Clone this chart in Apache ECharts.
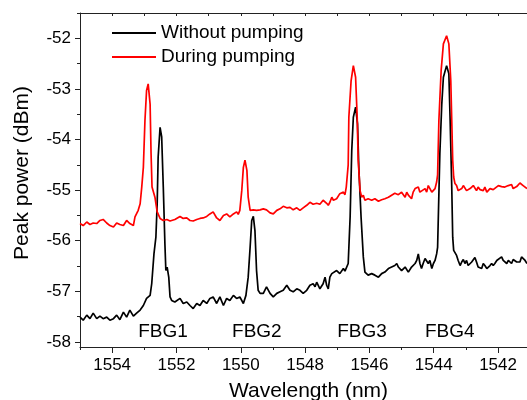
<!DOCTYPE html>
<html><head><meta charset="utf-8">
<script src="https://cdn.jsdelivr.net/npm/echarts@6/dist/echarts.min.js"></script>
<style>html,body{margin:0;padding:0;background:#fff}#c{width:527px;height:400px}</style>
</head><body><div id="c"></div>
<script>
const blackWl = [1555.00,1554.90,1554.79,1554.69,1554.59,1554.48,1554.38,1554.28,1554.17,1554.07,1553.96,1553.86,1553.76,1553.65,1553.55,1553.45,1553.34,1553.24,1553.13,1553.03,1552.93,1552.82,1552.77,1552.70,1552.64,1552.60,1552.57,1552.51,1552.46,1552.41,1552.36,1552.33,1552.29,1552.24,1552.20,1552.15,1552.05,1551.89,1551.79,1551.68,1551.58,1551.48,1551.37,1551.27,1551.17,1551.06,1550.96,1550.86,1550.75,1550.65,1550.54,1550.44,1550.34,1550.23,1550.13,1550.03,1549.92,1549.84,1549.77,1549.71,1549.66,1549.61,1549.56,1549.51,1549.46,1549.40,1549.30,1549.20,1549.09,1548.99,1548.88,1548.78,1548.68,1548.57,1548.47,1548.37,1548.26,1548.16,1548.06,1547.95,1547.85,1547.75,1547.69,1547.64,1547.54,1547.44,1547.38,1547.33,1547.28,1547.23,1547.17,1547.12,1547.02,1546.92,1546.81,1546.76,1546.71,1546.66,1546.60,1546.55,1546.50,1546.43,1546.37,1546.33,1546.26,1546.19,1546.14,1546.04,1545.93,1545.83,1545.72,1545.62,1545.52,1545.41,1545.31,1545.21,1545.15,1545.10,1545.00,1544.89,1544.79,1544.69,1544.58,1544.53,1544.48,1544.43,1544.38,1544.33,1544.27,1544.22,1544.17,1544.12,1544.06,1544.01,1543.96,1543.91,1543.88,1543.86,1543.81,1543.75,1543.70,1543.60,1543.53,1543.49,1543.44,1543.41,1543.38,1543.34,1543.29,1543.24,1543.18,1543.13,1543.08,1543.03,1542.98,1542.93,1542.87,1542.82,1542.77,1542.72,1542.67,1542.62,1542.56,1542.51,1542.46,1542.41,1542.35,1542.30,1542.25,1542.20,1542.15,1542.10,1542.04,1541.99,1541.89,1541.84,1541.79,1541.73,1541.68,1541.63,1541.58,1541.53,1541.47,1541.42,1541.37,1541.32,1541.27,1541.22,1541.16,1541.10];
const blackPw = [-57.51,-57.57,-57.47,-57.54,-57.43,-57.54,-57.49,-57.54,-57.51,-57.57,-57.54,-57.47,-57.56,-57.41,-57.51,-57.37,-57.49,-57.43,-57.37,-57.28,-57.14,-57.08,-56.85,-56.26,-55.93,-55.27,-54.35,-53.76,-53.95,-54.94,-56.06,-56.59,-56.52,-56.72,-57.11,-57.18,-57.21,-57.14,-57.24,-57.21,-57.28,-57.34,-57.24,-57.28,-57.18,-57.24,-57.14,-57.11,-57.24,-57.11,-57.28,-57.14,-57.18,-57.08,-57.14,-57.11,-57.24,-57.08,-56.72,-56.13,-55.60,-55.52,-55.80,-56.59,-56.98,-57.04,-57.04,-56.91,-57.04,-57.11,-57.04,-57.01,-56.98,-56.88,-56.98,-57.01,-56.95,-56.98,-57.04,-56.98,-56.88,-56.85,-56.91,-56.82,-56.95,-56.85,-56.72,-56.88,-56.95,-56.72,-56.65,-56.68,-56.59,-56.65,-56.55,-56.60,-56.62,-56.45,-55.53,-54.22,-53.56,-53.36,-53.69,-54.55,-55.53,-56.32,-56.62,-56.68,-56.65,-56.68,-56.72,-56.65,-56.62,-56.55,-56.52,-56.49,-56.45,-56.52,-56.59,-56.52,-56.62,-56.52,-56.45,-56.39,-56.26,-56.45,-56.55,-56.45,-56.35,-56.32,-56.45,-56.39,-56.55,-56.45,-56.39,-56.26,-56.13,-55.60,-54.28,-53.30,-52.77,-52.54,-52.70,-53.62,-54.94,-55.93,-56.19,-56.22,-56.29,-56.39,-56.49,-56.42,-56.37,-56.45,-56.39,-56.49,-56.52,-56.42,-56.39,-56.33,-56.42,-56.52,-56.49,-56.55,-56.45,-56.49,-56.55,-56.52,-56.49,-56.45,-56.49,-56.45,-56.39,-56.42,-56.32,-56.39,-56.42,-56.45,-56.39,-56.40,-56.45,-56.37,-56.39,-56.42,-56.45,-56.42,-56.32,-56.31,-56.39,-56.45];
const redWl = [1555.00,1554.90,1554.79,1554.69,1554.59,1554.48,1554.38,1554.28,1554.17,1554.07,1553.96,1553.86,1553.76,1553.65,1553.55,1553.45,1553.34,1553.29,1553.19,1553.13,1553.08,1553.03,1552.98,1552.93,1552.88,1552.82,1552.79,1552.76,1552.72,1552.67,1552.60,1552.51,1552.41,1552.30,1552.20,1552.05,1551.89,1551.79,1551.68,1551.58,1551.48,1551.37,1551.27,1551.17,1551.06,1550.96,1550.86,1550.75,1550.65,1550.54,1550.44,1550.34,1550.23,1550.13,1550.08,1550.03,1549.97,1549.92,1549.87,1549.81,1549.77,1549.71,1549.61,1549.51,1549.40,1549.30,1549.20,1549.09,1548.99,1548.88,1548.78,1548.68,1548.57,1548.47,1548.37,1548.26,1548.16,1548.06,1547.95,1547.85,1547.75,1547.64,1547.54,1547.44,1547.33,1547.28,1547.23,1547.17,1547.12,1547.02,1546.92,1546.81,1546.76,1546.72,1546.66,1546.64,1546.57,1546.50,1546.43,1546.38,1546.35,1546.29,1546.24,1546.19,1546.14,1546.04,1545.93,1545.83,1545.72,1545.62,1545.52,1545.41,1545.31,1545.21,1545.15,1545.10,1545.00,1544.89,1544.84,1544.79,1544.69,1544.64,1544.58,1544.48,1544.43,1544.38,1544.27,1544.22,1544.17,1544.12,1544.06,1544.01,1543.96,1543.91,1543.88,1543.84,1543.77,1543.70,1543.60,1543.53,1543.47,1543.44,1543.41,1543.38,1543.34,1543.29,1543.24,1543.18,1543.13,1543.08,1543.03,1542.98,1542.93,1542.87,1542.82,1542.77,1542.72,1542.67,1542.62,1542.56,1542.51,1542.46,1542.41,1542.35,1542.30,1542.25,1542.20,1542.15,1542.10,1541.99,1541.94,1541.89,1541.79,1541.68,1541.63,1541.58,1541.53,1541.47,1541.42,1541.32,1541.27,1541.22,1541.16,1541.10];
const redPw = [-55.66,-55.70,-55.63,-55.68,-55.65,-55.66,-55.60,-55.58,-55.65,-55.70,-55.73,-55.65,-55.68,-55.70,-55.60,-55.66,-55.70,-55.53,-55.40,-55.27,-54.94,-54.55,-53.62,-53.03,-52.90,-53.30,-54.28,-54.94,-54.95,-55.14,-55.43,-55.56,-55.60,-55.58,-55.61,-55.58,-55.52,-55.56,-55.55,-55.60,-55.61,-55.58,-55.56,-55.55,-55.52,-55.47,-55.43,-55.55,-55.60,-55.50,-55.47,-55.53,-55.47,-55.43,-55.48,-55.40,-55.01,-54.55,-54.41,-54.61,-55.14,-55.40,-55.39,-55.40,-55.39,-55.37,-55.39,-55.45,-55.47,-55.40,-55.37,-55.32,-55.35,-55.34,-55.39,-55.35,-55.40,-55.35,-55.30,-55.24,-55.28,-55.26,-55.28,-55.20,-55.26,-55.30,-55.24,-55.14,-55.20,-55.17,-55.07,-55.04,-55.09,-54.94,-54.50,-53.56,-52.84,-52.54,-52.77,-53.56,-54.41,-55.01,-55.14,-55.10,-55.20,-55.17,-55.20,-55.17,-55.22,-55.19,-55.17,-55.14,-55.10,-55.06,-55.04,-55.09,-55.04,-55.14,-55.04,-55.10,-55.17,-55.04,-54.97,-54.94,-55.04,-55.07,-54.97,-55.04,-54.91,-54.94,-55.04,-55.01,-54.97,-54.84,-54.70,-53.62,-52.64,-52.11,-51.95,-52.11,-52.84,-53.62,-54.41,-54.74,-54.87,-54.91,-55.01,-55.04,-54.97,-54.91,-54.91,-55.01,-55.04,-54.97,-54.94,-54.91,-54.93,-55.01,-54.94,-54.99,-54.97,-55.01,-54.94,-55.04,-55.01,-54.97,-54.94,-54.99,-54.97,-54.91,-54.89,-54.93,-54.94,-54.91,-54.94,-54.89,-54.97,-54.94,-54.93,-54.86,-54.84,-54.91,-54.94,-54.97];
const xMajorTicks = [1554,1552,1550,1548,1546,1544,1542];
const xMinorTicks = [1555,1553,1551,1549,1547,1545,1543];
const xTopTicks = [1555,1554,1553,1552,1551,1550,1549,1548,1547,1546,1545,1544,1543,1542];
const yMajorTicks = [-58,-57,-56,-55,-54,-53,-52];
const yMinorTicks = [-57.5,-56.5,-55.5,-54.5,-53.5,-52.5,-51.5];
const fbgNames = ['FBG1','FBG2','FBG3','FBG4'];
const fbgWl = [1552.42,1549.50,1546.23,1543.50];
const fbgPw = [-57.80,-57.80,-57.80,-57.80];
const seriesNames = ['Without pumping','During pumping'];

const FONT = '"Liberation Sans", Arial, sans-serif';
const X_MIN = 1541.1, X_MAX = 1555, Y_MIN = -58.1, Y_MAX = -51.5;
const axisColor = '#222';

function xAx(extra) {
  return Object.assign({
    type: 'value', inverse: true, min: X_MIN, max: X_MAX, gridIndex: 0,
    splitLine: {show: false},
    axisLine: {show: false, lineStyle: {color: axisColor, width: 1}},
    axisTick: {show: false},
    axisLabel: {show: false}
  }, extra);
}
function yAx(extra) {
  return Object.assign({
    type: 'value', min: Y_MIN, max: Y_MAX, gridIndex: 0,
    splitLine: {show: false},
    axisLine: {show: false, lineStyle: {color: axisColor, width: 1}},
    axisTick: {show: false},
    axisLabel: {show: false}
  }, extra);
}

const chart = echarts.init(document.getElementById('c'), null, {renderer: 'canvas'});
chart.setOption({
  animation: false,
  backgroundColor: '#fff',
  textStyle: {fontFamily: FONT},
  grid: {left: 80, top: 13, right: 0, bottom: 53, containLabel: false, outerBoundsMode: 'none'},
  legend: {
    orient: 'vertical', left: 107, top: 18, itemWidth: 44, itemHeight: 2, itemGap: 4,
    icon: 'rect',
    data: seriesNames,
    textStyle: {fontFamily: FONT, fontSize: 19, color: '#000', lineHeight: 20}
  },
  xAxis: [
    xAx({
      position: 'bottom',
      axisLine: {show: true, onZero: false, lineStyle: {color: axisColor, width: 1}},
      axisTick: {show: true, customValues: xMajorTicks, length: 6, lineStyle: {color: axisColor}},
      axisLabel: {show: true, customValues: xMajorTicks, fontSize: 17, color: '#000', margin: 10,
                  fontFamily: FONT, formatter: v => String(Math.round(v))},
      name: 'Wavelength (nm)', nameLocation: 'middle', nameGap: 34,
      nameTextStyle: {fontSize: 21, color: '#000', fontFamily: FONT, padding: [0, 0, 0, 10]}
    }),
    xAx({
      position: 'bottom',
      axisTick: {show: true, customValues: xMinorTicks, length: 3, lineStyle: {color: axisColor}}
    }),
    xAx({
      position: 'top',
      axisLine: {show: true, onZero: false, lineStyle: {color: axisColor, width: 1}},
      axisTick: {show: true, inside: true, customValues: xTopTicks, length: 3, lineStyle: {color: axisColor}}
    })
  ],
  yAxis: [
    yAx({
      position: 'left',
      axisLine: {show: true, onZero: false, lineStyle: {color: axisColor, width: 1}},
      axisTick: {show: true, customValues: yMajorTicks, length: 5, lineStyle: {color: axisColor}},
      axisLabel: {show: true, customValues: yMajorTicks, fontSize: 17, color: '#000', margin: 9,
                  fontFamily: FONT, formatter: v => String(Math.round(v))},
      name: 'Peak power (dBm)', nameLocation: 'middle', nameGap: 47,
      nameTextStyle: {fontSize: 21, color: '#000', fontFamily: FONT, padding: [0, 0, 0, 14]}
    }),
    yAx({
      position: 'left',
      axisTick: {show: true, customValues: yMinorTicks, length: 3, lineStyle: {color: axisColor}}
    })
  ],
  series: [
    {
      name: seriesNames[0], type: 'line', xAxisIndex: 0, yAxisIndex: 0,
      symbol: 'none', smooth: false,
      lineStyle: {color: '#000', width: 1.7}, itemStyle: {color: '#000'},
      data: blackWl.map((w, i) => [w, blackPw[i]])
    },
    {
      name: seriesNames[1], type: 'line', xAxisIndex: 0, yAxisIndex: 0,
      symbol: 'none', smooth: false,
      lineStyle: {color: '#ff0000', width: 1.7}, itemStyle: {color: '#ff0000'},
      data: redWl.map((w, i) => [w, redPw[i]])
    },
    {
      type: 'scatter', xAxisIndex: 0, yAxisIndex: 0, silent: true,
      symbol: 'circle', symbolSize: 0.01, itemStyle: {color: '#000', opacity: 1},
      label: {show: true, position: 'inside', formatter: p => fbgNames[p.dataIndex],
              fontSize: 19, color: '#000', fontFamily: FONT, opacity: 1},
      emphasis: {disabled: true},
      data: fbgWl.map((w, i) => [w, fbgPw[i]])
    }
  ]
});
</script>
</body></html>
